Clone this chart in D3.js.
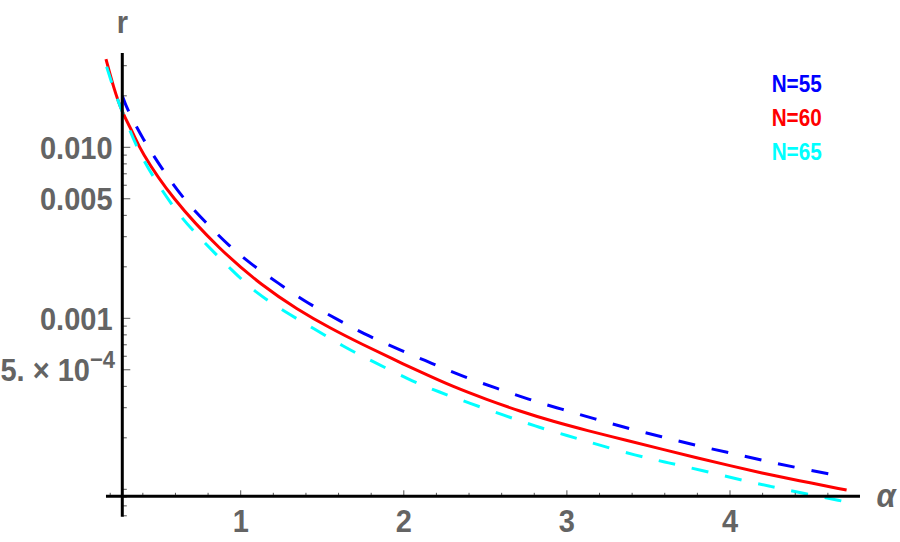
<!DOCTYPE html>
<html><head><meta charset="utf-8">
<script src="https://cdn.jsdelivr.net/npm/d3@7"></script>
<style>
html,body{margin:0;padding:0;background:#fff;}
svg{display:block;}
text{font-family:"Liberation Sans",Arial,sans-serif;font-weight:bold;}
</style></head>
<body>
<svg id="c" width="900" height="542"></svg>
<script>
// ---- data ----
const alphaN55 = [0.274,0.301,0.403,0.516,0.638,0.781,0.934,1.057,1.231,1.414,1.598,1.782,1.977,2.171,2.365,2.570,2.763,2.968,3.172,3.376,3.581,3.785,3.990,4.194,4.405,4.664];
const rN55 = [0.02004,0.0169,0.01104,0.00754,0.00514,0.00367,0.00262,0.0021,0.0016,0.00122,0.000978,0.000787,0.000653,0.000546,0.000455,0.00039,0.000336,0.000294,0.000258,0.000227,0.000203,0.000181,0.000164,0.000148,0.000134,0.00012];

const alphaN60 = [0.174,0.219,0.274,0.342,0.383,0.577,0.873,1.139,1.343,1.548,1.752,1.936,2.099,2.304,2.508,2.712,2.917,3.121,3.367,3.591,3.796,4.0,4.204,4.409,4.715];
const rN60 = [0.0328,0.0226,0.0158,0.0121,0.00965,0.00504,0.00251,0.00153,0.001135,0.000875,0.000699,0.000576,0.000487,0.000397,0.000335,0.000286,0.000249,0.000221,0.000193,0.000171,0.000153,0.0001374,0.000124,0.000113,0.000099];

const alphaN65 = [0.178,0.229,0.301,0.383,0.495,0.628,0.771,0.955,1.098,1.272,1.445,1.629,1.793,2.039,2.212,2.406,2.610,2.804,3.009,3.162,3.428,3.622,3.826,4.041,4.245,4.449,4.705];
const rN65 = [0.0296,0.0207,0.0139,0.00902,0.00602,0.00393,0.00281,0.00187,0.0014,0.00109,0.000875,0.000683,0.00057,0.000434,0.000372,0.000318,0.000272,0.000234,0.000205,0.000186,0.000157,0.000143,0.000129,0.000115,0.000104,0.0000948,0.0000847];

const seriesNames = ["N=55","N=60","N=65"];
const seriesColors = ["#0000ff","#ff0000","#00ffff"];
const xTickValues = [1,2,3,4];
const yTickLabels = [{v:0.01,t:"0.010"},{v:0.005,t:"0.005"},{v:0.001,t:"0.001"}];
const ySciTick = {v:0.0005, mant:"5. \u00d7 10", exp:"\u22124"};

// ---- layout ----
const svg = d3.select("#c");
const x = d3.scaleLinear().domain([1,4]).range([240.7,730]);
const y = d3.scaleLog().domain([0.01,0.001]).range([147.3,318.3]);
const axisAlpha = 0.274, axisR = 9.1e-5;
const xAxisExtent = [0.174, 4.797];
const yAxisExtent = [0.0356, 6.9e-5];
const X0 = x(axisAlpha), Y0 = y(axisR);
const labelColor = "#646464";

// curves
const series = [
  {a:alphaN55, r:rN55, dash:"17,17"},
  {a:alphaN60, r:rN60, dash:null},
  {a:alphaN65, r:rN65, dash:"17,17"}
];
const line = d3.line().x(d=>x(d[0])).y(d=>y(d[1])).curve(d3.curveBasis);
series.forEach((s,i)=>{
  const pts = s.a.map((a,j)=>[a,s.r[j]]);
  svg.append("path").attr("d",line(pts)).attr("fill","none")
    .attr("stroke",seriesColors[i]).attr("stroke-width",3)
    .attr("stroke-dasharray",s.dash);
});

// y ticks
const yt = [];
for(let k=-5;k<=-1;k++) for(let m=1;m<=9;m++){
  const v = m*Math.pow(10,k);
  if(v<=yAxisExtent[0] && v>=yAxisExtent[1]) yt.push({v, major:(m===1||m===5)&&v>=0.0005});
}
svg.selectAll(".yt").data(yt).enter().append("line")
  .attr("x1",X0).attr("x2",d=>X0+(d.major?8:4.5))
  .attr("y1",d=>y(d.v)).attr("y2",d=>y(d.v))
  .attr("stroke","#555").attr("stroke-width",1);

// x ticks
const xt = d3.range(1,24).map(i=>i*0.2).filter(v=>v>=xAxisExtent[0]&&v<=xAxisExtent[1]);
svg.selectAll(".xt").data(xt).enter().append("line")
  .attr("x1",d=>x(d)).attr("x2",d=>x(d))
  .attr("y1",Y0).attr("y2",d=>Y0-(Math.abs(d-Math.round(d))<1e-6?6:3.5))
  .attr("stroke","#555").attr("stroke-width",1);

// axes lines
svg.append("line").attr("x1",x(xAxisExtent[0])).attr("x2",x(xAxisExtent[1]))
  .attr("y1",Y0).attr("y2",Y0).attr("stroke","#000").attr("stroke-width",3);
svg.append("line").attr("x1",X0).attr("x2",X0)
  .attr("y1",y(yAxisExtent[0])).attr("y2",y(yAxisExtent[1])).attr("stroke","#000").attr("stroke-width",3);

// text helper with vertical stretch
function label(xp,yp,txt,size,anchor,color,italic,sy){
  const g = svg.append("g").attr("transform",`translate(${xp},${yp}) scale(1,${sy||1.1})`);
  const t = g.append("text").attr("text-anchor",anchor).attr("font-size",size)
    .attr("fill",color).text(txt);
  if(italic) t.attr("font-style","italic");
  return t;
}

// x tick labels
xTickValues.forEach(v=>label(x(v),532,String(v),29,"middle",labelColor));
// y tick labels
yTickLabels.forEach(d=>label(112.5,y(d.v)+11.5,d.t,29,"end",labelColor));
{
  const g = svg.append("g").attr("transform",`translate(115,${y(ySciTick.v)+11.5}) scale(1,1.1)`);
  const t = g.append("text").attr("text-anchor","end").attr("font-size",29).attr("fill",labelColor);
  t.append("tspan").text(ySciTick.mant);
  t.append("tspan").attr("font-size",22).attr("dy",-12.5).text(ySciTick.exp);
}
// axis titles
label(X0,33,"r",29,"middle",labelColor);
label(886,507,"\u03b1",31,"middle",labelColor,true);

// legend
seriesNames.forEach((n,i)=>label(796.7,91.7+i*34.2,n,20.7,"middle",seriesColors[i],false,1.13));
</script>
</body></html>
